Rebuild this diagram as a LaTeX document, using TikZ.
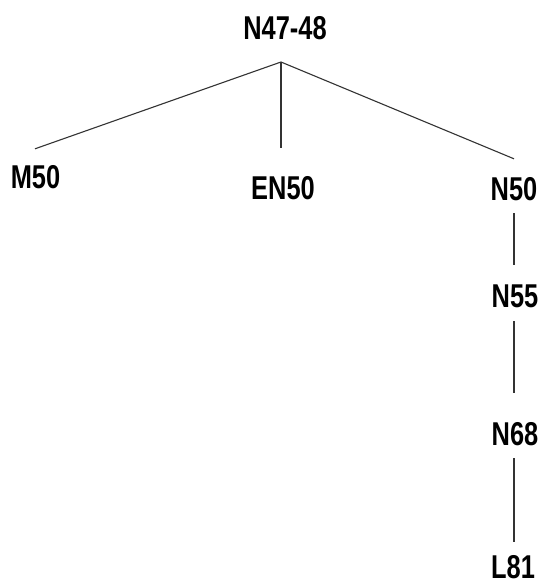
\documentclass[tikz,border=0pt]{standalone}
\usepackage{fontspec}
\newfontfamily\lblfont{Liberation Sans}[FakeStretch=0.77]
\usetikzlibrary{calc}
\tikzset{
  lbl/.style={font=\lblfont\bfseries\fontsize{33}{33}\selectfont, inner sep=0pt, text height=24pt, text depth=0pt, anchor=base, text=black},
  edge/.style={draw=black!80, line width=1.1pt}
}
\begin{document}
\begin{tikzpicture}[x=1pt,y=-1pt]
\useasboundingbox[fill=white] (0,0) rectangle (540,584);
\node[lbl] (root) at (285,39) {N47-48};
\node[lbl] (m50) at (35.5,188) {M50};
\node[lbl] (en50) at (283,199) {EN50};
\node[lbl] (n50) at (514,200) {N50};
\node[lbl] (n55) at (515,307) {N55};
\node[lbl] (n68) at (515,445) {N68};
\node[lbl] (l81) at (513,578) {L81};
\coordinate (apex) at (281,62);
\draw[edge] (apex) -- ($(m50.north)+(-0.5,-15)$);
\draw[edge] (apex) -- ($(en50.north -| apex)+(0,-27)$);
\draw[edge] (apex) -- ($(n50.north)+(0,-17)$);
\draw[edge] ($(n50.south)+(0,13)$) -- ($(n55.north)+(-1,-18)$);
\draw[edge] ($(n55.south)+(-1,14)$) -- ($(n68.north)+(-1,-28)$);
\draw[edge] ($(n68.south)+(-1,13)$) -- ($(l81.north)+(1,-12)$);
\end{tikzpicture}
\end{document}
